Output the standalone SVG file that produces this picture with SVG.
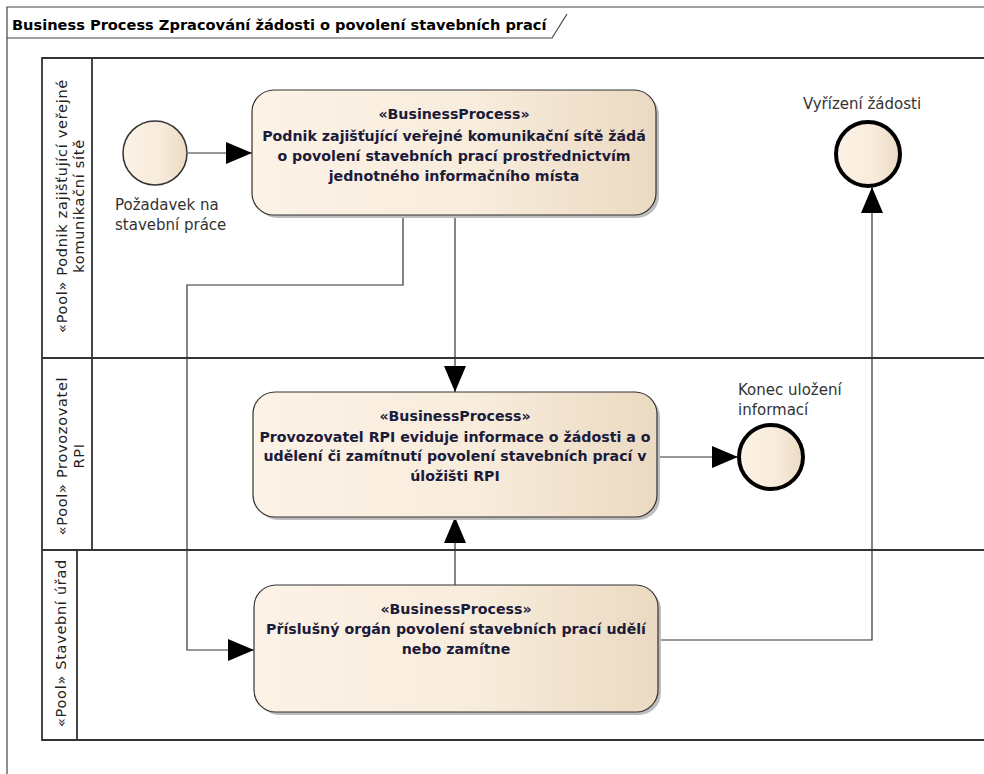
<svg xmlns="http://www.w3.org/2000/svg" width="984" height="774" viewBox="0 0 984 774">
  <defs>
    <linearGradient id="procFill" x1="0" y1="0" x2="1" y2="0">
      <stop offset="0" stop-color="#FCF2E6"/>
      <stop offset="0.55" stop-color="#F8ECDC"/>
      <stop offset="1" stop-color="#EBDAC2"/>
    </linearGradient>
    <linearGradient id="evFill" x1="0" y1="0" x2="1" y2="0">
      <stop offset="0" stop-color="#FCF2E6"/>
      <stop offset="0.6" stop-color="#F8EBDB"/>
      <stop offset="1" stop-color="#EBDAC2"/>
    </linearGradient>
    <marker id="arrow" viewBox="0 0 26 22" refX="26" refY="11" markerWidth="26" markerHeight="22" markerUnits="userSpaceOnUse" orient="auto">
      <path d="M0,0 L26,11 L0,22 Z" fill="#000"/>
    </marker>
  </defs>
  <style>
    .frame { fill: none; stroke: #444; stroke-width: 1.2; }
    .pool { fill: none; stroke: #333; stroke-width: 1.8; }
    .proc { fill: url(#procFill); stroke: #333; stroke-width: 1.2; }
    .shadow { fill: #bdbdbd; }
    .conn { fill: none; stroke: #333; stroke-width: 1.2; }
    .title { font-family: "DejaVu Sans", "Liberation Sans", sans-serif; font-size: 14.6px; font-weight: bold; fill: #000; }
    .poolLbl { font-family: "DejaVu Sans", "Liberation Sans", sans-serif; font-size: 14.5px; letter-spacing: 0.7px; fill: #222; text-anchor: middle; }
    .procTxt { font-family: "DejaVu Sans", "Liberation Sans", sans-serif; font-size: 14.2px; font-weight: bold; fill: #1b1b3a; text-anchor: middle; }
    .lbl { font-family: "DejaVu Sans", "Liberation Sans", sans-serif; font-size: 15px; fill: #333; }
    .startEv { fill: url(#evFill); stroke: #333; stroke-width: 1.5; }
    .endEv { fill: url(#evFill); stroke: #000; stroke-width: 4; }
  </style>

  <rect width="984" height="774" fill="#fff"/>

  <!-- diagram frame and title tab -->
  <g id="frame">
    <path class="frame" d="M7,774 V7 H984"/>
    <path class="frame" d="M7,38 H552 L567,14"/>
    <text class="title" x="12" y="30">Business Process Zpracování žádosti o povolení stavebních prací</text>
  </g>

  <!-- pools -->
  <g id="pool1">
    <path class="pool" d="M984,58 H42 V358 H984 M92,58 V358"/>
    <text class="poolLbl" transform="translate(67,206) rotate(-90)">«Pool» Podnik zajišťující veřejné</text>
    <text class="poolLbl" transform="translate(84,206) rotate(-90)">komunikační sítě</text>
  </g>
  <g id="pool2">
    <path class="pool" d="M42,358 V550 H984 M92,358 V550"/>
    <text class="poolLbl" transform="translate(67,456) rotate(-90)">«Pool» Provozovatel</text>
    <text class="poolLbl" transform="translate(84,456) rotate(-90)">RPI</text>
  </g>
  <g id="pool3">
    <path class="pool" d="M42,550 V740 H984 M77,550 V740"/>
    <text class="poolLbl" transform="translate(66,643) rotate(-90)">«Pool» Stavební úřad</text>
  </g>

  <!-- connectors -->
  <g id="connectors">
    <path class="conn" d="M188,153 H252" marker-end="url(#arrow)"/>
    <path class="conn" d="M455,215 V392" marker-end="url(#arrow)"/>
    <path class="conn" d="M403,215 V285 H187 V650 H254" marker-end="url(#arrow)"/>
    <path class="conn" d="M455,585 V517" marker-end="url(#arrow)"/>
    <path class="conn" d="M657,457 H738" marker-end="url(#arrow)"/>
    <path class="conn" d="M658,640 H872 V187" marker-end="url(#arrow)"/>
  </g>

  <!-- start event -->
  <g id="start">
    <circle class="startEv" cx="155" cy="153" r="32"/>
    <text class="lbl" x="115" y="210">Požadavek na</text>
    <text class="lbl" x="115" y="230">stavební práce</text>
  </g>

  <!-- processes -->
  <g id="proc1">
    <rect class="shadow" x="255" y="93" width="404" height="125" rx="22"/>
    <rect class="proc" x="252" y="90" width="404" height="125" rx="22"/>
    <text class="procTxt" x="454" y="119">«BusinessProcess»</text>
    <text class="procTxt" x="454" y="141">Podnik zajišťující veřejné komunikační sítě žádá</text>
    <text class="procTxt" x="454" y="161">o povolení stavebních prací prostřednictvím</text>
    <text class="procTxt" x="454" y="181">jednotného informačního místa</text>
  </g>
  <g id="proc2">
    <rect class="shadow" x="256" y="395" width="404" height="125" rx="22"/>
    <rect class="proc" x="253" y="392" width="404" height="125" rx="22"/>
    <text class="procTxt" x="455" y="421">«BusinessProcess»</text>
    <text class="procTxt" x="455" y="442">Provozovatel RPI eviduje informace o žádosti a o</text>
    <text class="procTxt" x="455" y="461">udělení či zamítnutí povolení stavebních prací v</text>
    <text class="procTxt" x="455" y="481">úložišti RPI</text>
  </g>
  <g id="proc3">
    <rect class="shadow" x="257" y="588" width="404" height="127" rx="22"/>
    <rect class="proc" x="254" y="585" width="404" height="127" rx="22"/>
    <text class="procTxt" x="456" y="614">«BusinessProcess»</text>
    <text class="procTxt" x="456" y="634">Příslušný orgán povolení stavebních prací udělí</text>
    <text class="procTxt" x="456" y="654">nebo zamítne</text>
  </g>

  <!-- end events -->
  <g id="end1">
    <circle class="endEv" cx="868" cy="154" r="32"/>
    <text class="lbl" x="862" y="109" text-anchor="middle">Vyřízení žádosti</text>
  </g>
  <g id="end2">
    <circle class="endEv" cx="771" cy="457" r="32"/>
    <text class="lbl" x="738" y="395">Konec uložení</text>
    <text class="lbl" x="738" y="415">informací</text>
  </g>
</svg>
